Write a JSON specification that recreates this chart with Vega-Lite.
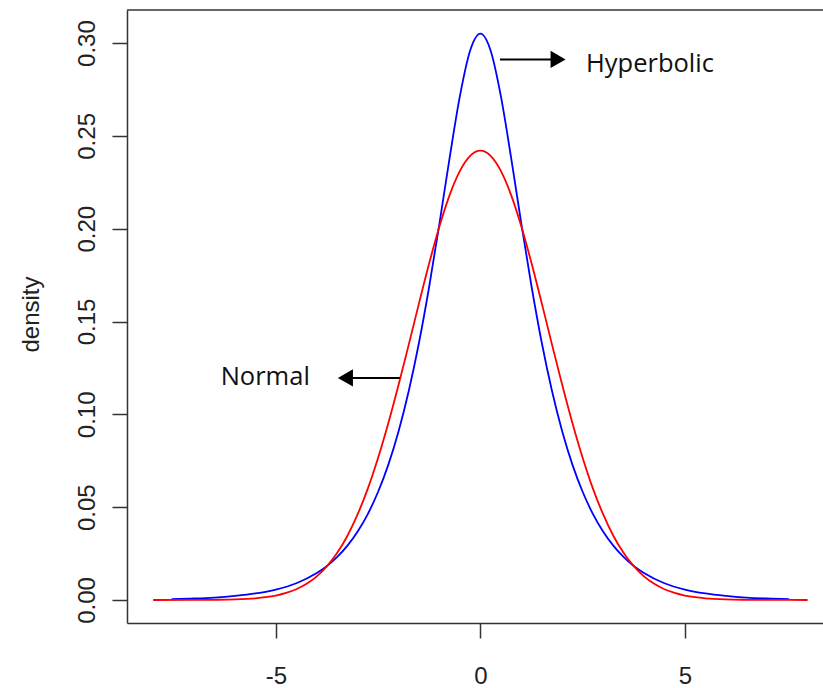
{
  "$schema": "https://vega.github.io/schema/vega-lite/v6.json",
  "width": 696,
  "height": 613,
  "autosize": {"type": "none"},
  "padding": {"left": 127, "top": 10, "right": 0, "bottom": 65},
  "background": "white",
  "config": {
    "view": {"stroke": null},
    "font": "Liberation Sans",
    "axis": {
      "grid": false, "tickSize": 15, "labelFontSize": 24, "labelColor": "#222",
      "labelFont": "Liberation Sans", "labelFlush": false, "labelOverlap": false,
      "domainColor": "#333", "domainWidth": 1.5, "tickColor": "#333", "tickWidth": 1.5,
      "titleFont": "Liberation Sans", "titleFontSize": 24, "titleFontWeight": "normal", "titleColor": "#222"
    },
    "axisX": {"labelPadding": 45, "labelBaseline": "alphabetic"},
    "axisY": {
      "labelPadding": 18, "labelAngle": -90, "labelAlign": "center", "labelBaseline": "alphabetic",
      "titleAngle": -90, "titleX": -96, "titleY": 304, "titleAlign": "center", "titleBaseline": "middle"
    }
  },
  "datasets": {
    "curves": [
      {"x": -7.55, "density": 0.0005, "dist": "Hyperbolic"},
      {"x": -7.0, "density": 0.0008, "dist": "Hyperbolic"},
      {"x": -6.5, "density": 0.0013, "dist": "Hyperbolic"},
      {"x": -6.0, "density": 0.0022, "dist": "Hyperbolic"},
      {"x": -5.5, "density": 0.0035, "dist": "Hyperbolic"},
      {"x": -5.0, "density": 0.0056, "dist": "Hyperbolic"},
      {"x": -4.5, "density": 0.0090, "dist": "Hyperbolic"},
      {"x": -4.0, "density": 0.0145, "dist": "Hyperbolic"},
      {"x": -3.75, "density": 0.0183, "dist": "Hyperbolic"},
      {"x": -3.5, "density": 0.0232, "dist": "Hyperbolic"},
      {"x": -3.25, "density": 0.0293, "dist": "Hyperbolic"},
      {"x": -3.0, "density": 0.0369, "dist": "Hyperbolic"},
      {"x": -2.75, "density": 0.0464, "dist": "Hyperbolic"},
      {"x": -2.5, "density": 0.0583, "dist": "Hyperbolic"},
      {"x": -2.25, "density": 0.0729, "dist": "Hyperbolic"},
      {"x": -2.0, "density": 0.0909, "dist": "Hyperbolic"},
      {"x": -1.75, "density": 0.1127, "dist": "Hyperbolic"},
      {"x": -1.5, "density": 0.1387, "dist": "Hyperbolic"},
      {"x": -1.25, "density": 0.1690, "dist": "Hyperbolic"},
      {"x": -1.0, "density": 0.2029, "dist": "Hyperbolic"},
      {"x": -0.75, "density": 0.2384, "dist": "Hyperbolic"},
      {"x": -0.5, "density": 0.2715, "dist": "Hyperbolic"},
      {"x": -0.25, "density": 0.2960, "dist": "Hyperbolic"},
      {"x": 0.0, "density": 0.3051, "dist": "Hyperbolic"},
      {"x": 0.25, "density": 0.2960, "dist": "Hyperbolic"},
      {"x": 0.5, "density": 0.2715, "dist": "Hyperbolic"},
      {"x": 0.75, "density": 0.2384, "dist": "Hyperbolic"},
      {"x": 1.0, "density": 0.2029, "dist": "Hyperbolic"},
      {"x": 1.25, "density": 0.1690, "dist": "Hyperbolic"},
      {"x": 1.5, "density": 0.1387, "dist": "Hyperbolic"},
      {"x": 1.75, "density": 0.1127, "dist": "Hyperbolic"},
      {"x": 2.0, "density": 0.0909, "dist": "Hyperbolic"},
      {"x": 2.25, "density": 0.0729, "dist": "Hyperbolic"},
      {"x": 2.5, "density": 0.0583, "dist": "Hyperbolic"},
      {"x": 2.75, "density": 0.0464, "dist": "Hyperbolic"},
      {"x": 3.0, "density": 0.0369, "dist": "Hyperbolic"},
      {"x": 3.25, "density": 0.0293, "dist": "Hyperbolic"},
      {"x": 3.5, "density": 0.0232, "dist": "Hyperbolic"},
      {"x": 3.75, "density": 0.0183, "dist": "Hyperbolic"},
      {"x": 4.0, "density": 0.0145, "dist": "Hyperbolic"},
      {"x": 4.5, "density": 0.0090, "dist": "Hyperbolic"},
      {"x": 5.0, "density": 0.0056, "dist": "Hyperbolic"},
      {"x": 5.5, "density": 0.0035, "dist": "Hyperbolic"},
      {"x": 6.0, "density": 0.0022, "dist": "Hyperbolic"},
      {"x": 6.5, "density": 0.0013, "dist": "Hyperbolic"},
      {"x": 7.0, "density": 0.0008, "dist": "Hyperbolic"},
      {"x": 7.55, "density": 0.0005, "dist": "Hyperbolic"},
      {"x": -8.0, "density": 0.0, "dist": "Normal"},
      {"x": -7.0, "density": 0.00003, "dist": "Normal"},
      {"x": -6.5, "density": 0.0001, "dist": "Normal"},
      {"x": -6.0, "density": 0.0003, "dist": "Normal"},
      {"x": -5.5, "density": 0.0009, "dist": "Normal"},
      {"x": -5.25, "density": 0.0015, "dist": "Normal"},
      {"x": -5.0, "density": 0.0024, "dist": "Normal"},
      {"x": -4.75, "density": 0.0038, "dist": "Normal"},
      {"x": -4.5, "density": 0.0058, "dist": "Normal"},
      {"x": -4.25, "density": 0.0087, "dist": "Normal"},
      {"x": -4.0, "density": 0.0127, "dist": "Normal"},
      {"x": -3.75, "density": 0.0182, "dist": "Normal"},
      {"x": -3.5, "density": 0.0254, "dist": "Normal"},
      {"x": -3.25, "density": 0.0346, "dist": "Normal"},
      {"x": -3.0, "density": 0.0462, "dist": "Normal"},
      {"x": -2.75, "density": 0.0601, "dist": "Normal"},
      {"x": -2.5, "density": 0.0766, "dist": "Normal"},
      {"x": -2.25, "density": 0.0953, "dist": "Normal"},
      {"x": -2.0, "density": 0.1159, "dist": "Normal"},
      {"x": -1.75, "density": 0.1377, "dist": "Normal"},
      {"x": -1.5, "density": 0.1599, "dist": "Normal"},
      {"x": -1.25, "density": 0.1815, "dist": "Normal"},
      {"x": -1.0, "density": 0.2013, "dist": "Normal"},
      {"x": -0.75, "density": 0.2182, "dist": "Normal"},
      {"x": -0.5, "density": 0.2311, "dist": "Normal"},
      {"x": -0.25, "density": 0.2392, "dist": "Normal"},
      {"x": 0.0, "density": 0.2420, "dist": "Normal"},
      {"x": 0.25, "density": 0.2392, "dist": "Normal"},
      {"x": 0.5, "density": 0.2311, "dist": "Normal"},
      {"x": 0.75, "density": 0.2182, "dist": "Normal"},
      {"x": 1.0, "density": 0.2013, "dist": "Normal"},
      {"x": 1.25, "density": 0.1815, "dist": "Normal"},
      {"x": 1.5, "density": 0.1599, "dist": "Normal"},
      {"x": 1.75, "density": 0.1377, "dist": "Normal"},
      {"x": 2.0, "density": 0.1159, "dist": "Normal"},
      {"x": 2.25, "density": 0.0953, "dist": "Normal"},
      {"x": 2.5, "density": 0.0766, "dist": "Normal"},
      {"x": 2.75, "density": 0.0601, "dist": "Normal"},
      {"x": 3.0, "density": 0.0462, "dist": "Normal"},
      {"x": 3.25, "density": 0.0346, "dist": "Normal"},
      {"x": 3.5, "density": 0.0254, "dist": "Normal"},
      {"x": 3.75, "density": 0.0182, "dist": "Normal"},
      {"x": 4.0, "density": 0.0127, "dist": "Normal"},
      {"x": 4.25, "density": 0.0087, "dist": "Normal"},
      {"x": 4.5, "density": 0.0058, "dist": "Normal"},
      {"x": 4.75, "density": 0.0038, "dist": "Normal"},
      {"x": 5.0, "density": 0.0024, "dist": "Normal"},
      {"x": 5.25, "density": 0.0015, "dist": "Normal"},
      {"x": 5.5, "density": 0.0009, "dist": "Normal"},
      {"x": 6.0, "density": 0.0003, "dist": "Normal"},
      {"x": 6.5, "density": 0.0001, "dist": "Normal"},
      {"x": 7.0, "density": 0.00003, "dist": "Normal"},
      {"x": 8.0, "density": 0.0, "dist": "Normal"}
    ],
    "frame": [{"top": 0.3178}],
    "arrows": [
      {"x": 0.479, "x2": 1.74, "y": 0.2912},
      {"x": -1.966, "x2": -3.12, "y": 0.1196}
    ],
    "heads": [
      {"x": 1.9, "y": 0.2912, "shape": "triangle-right"},
      {"x": -3.3, "y": 0.1196, "shape": "triangle-left"}
    ],
    "labels": [
      {"x": 2.582, "y": 0.2846, "label": "Hyperbolic"},
      {"x": -6.35, "y": 0.1158, "label": "Normal"}
    ]
  },
  "layer": [
    {
      "data": {"name": "curves"},
      "mark": {"type": "line", "strokeWidth": 1.8, "interpolate": "monotone"},
      "encoding": {
        "x": {
          "field": "x", "type": "quantitative", "title": null,
          "scale": {"domain": [-8.64, 8.377], "nice": false, "zero": false},
          "axis": {"values": [-5, 0, 5], "labelExpr": "'' + datum.value"}
        },
        "y": {
          "field": "density", "type": "quantitative", "title": "density",
          "scale": {"domain": [-0.0124, 0.3178], "nice": false, "zero": false},
          "axis": {"values": [0, 0.05, 0.1, 0.15, 0.2, 0.25, 0.3], "format": ".2f"}
        },
        "color": {
          "field": "dist", "type": "nominal",
          "scale": {"domain": ["Hyperbolic", "Normal"], "range": ["#0000ff", "#ff0000"]},
          "legend": null
        }
      }
    },
    {
      "data": {"name": "frame"},
      "mark": {"type": "rule", "color": "#333", "strokeWidth": 1.5},
      "encoding": {"y": {"field": "top", "type": "quantitative", "title": "density"}}
    },
    {
      "data": {"name": "arrows"},
      "mark": {"type": "rule", "color": "#000", "strokeWidth": 2},
      "encoding": {
        "x": {"field": "x", "type": "quantitative", "title": null},
        "x2": {"field": "x2"},
        "y": {"field": "y", "type": "quantitative", "title": "density"}
      }
    },
    {
      "data": {"name": "heads"},
      "mark": {"type": "point", "filled": true, "color": "#000", "size": 300, "opacity": 1},
      "encoding": {
        "x": {"field": "x", "type": "quantitative", "title": null},
        "y": {"field": "y", "type": "quantitative", "title": "density"},
        "shape": {"field": "shape", "type": "nominal", "scale": null}
      }
    },
    {
      "data": {"name": "labels"},
      "mark": {"type": "text", "font": "Open Sans", "fontSize": 25.5, "align": "left", "baseline": "alphabetic", "color": "#111"},
      "encoding": {
        "x": {"field": "x", "type": "quantitative", "title": null},
        "y": {"field": "y", "type": "quantitative", "title": "density"},
        "text": {"field": "label"}
      }
    }
  ]
}
